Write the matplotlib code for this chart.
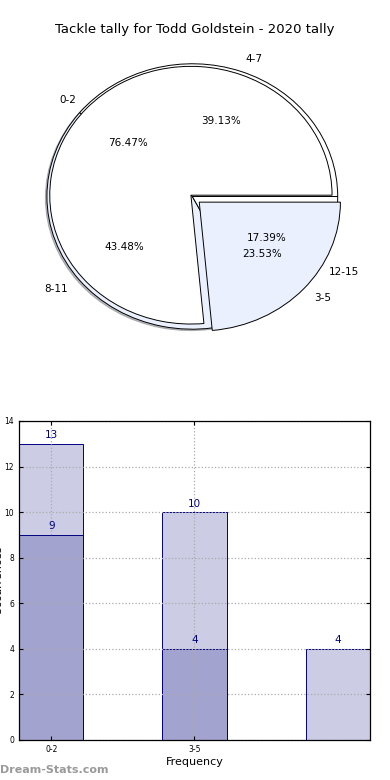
import matplotlib
matplotlib.use("Agg")
import matplotlib.pyplot as plt
import numpy as np

# pie data
labels_a = ["0-2", "3-5"]
values_a = [13, 4]
labels_b = ["4-7", "8-11", "12-15"]
values_b = [9, 10, 4]

# bar data
bar_labels = ["0-2", "3-5"]
bars_back = [13, 10, 4]
bars_front = [9, 4]

navy = "#000080"
light = "#eaf0fd"

fig = plt.figure(figsize=(3.9, 7.8), dpi=100)
fig.text(0.5, 1 - 30 / 780, "Tackle tally for Todd Goldstein - 2020 tally",
         ha="center", va="center", fontsize=9.5)

# top: two pies drawn on the same axes
ax1 = fig.add_axes([0.019, 0.535, 0.941, 0.4295])
ax1.pie(values_b, labels=labels_b, colors=["white", light, "white"],
        autopct="%.2f%%", radius=1.03, center=(0.01, -0.01),
        shadow={"ox": -0.008, "oy": -0.008, "shade": 0.5},
        wedgeprops={"edgecolor": "black", "linewidth": 0.7},
        textprops={"fontsize": 7.5})
ax1.pie(values_a, labels=labels_a, colors=["white", light],
        autopct="%.2f%%", explode=[0, 0.08],
        wedgeprops={"edgecolor": "black", "linewidth": 0.7},
        textprops={"fontsize": 7.5})
ax1.set_aspect("auto")
ax1.set_xlim(-1.3, 1.3)
ax1.set_ylim(-1.3, 1.3)
ax1.axis("off")

# bottom: overlapping bars
ax2 = fig.add_axes([0.0487, 0.0513, 0.9, 0.409])
w = 0.45
face = (0, 0, 128 / 255, 0.2)
x_back = np.arange(len(bars_back))
x_front = np.arange(len(bars_front))
ax2.bar(x_back, bars_back, w, color=face, edgecolor=navy, linewidth=0.7)
ax2.bar(x_front, bars_front, w, color=face, edgecolor=navy, linewidth=0.7)
for x, v in zip(x_back, bars_back):
    ax2.text(x, v + 0.15, str(v), ha="center", va="bottom", color=navy, fontsize=7.5)
for x, v in zip(x_front, bars_front):
    ax2.text(x, v + 0.15, str(v), ha="center", va="bottom", color=navy, fontsize=7.5)

ax2.set_xlim(-w / 2, len(bars_back) - 1 + w / 2)
ax2.set_ylim(0, 14)
ax2.set_yticks(range(0, 15, 2))
ax2.set_xticks(x_front)
ax2.set_xticklabels(bar_labels)
ax2.tick_params(direction="in", top=True, right=True, labelsize=5.5, length=3)
ax2.set_axisbelow(False)
ax2.grid(True, linestyle=":", color="#aaaaaa", linewidth=0.9)
ax2.set_xlabel("Frequency", fontsize=8, labelpad=2)
ax2.set_ylabel("Occurrences", fontsize=8, labelpad=1)
for s in ax2.spines.values():
    s.set_linewidth(0.9)
    s.set_zorder(5)

fig.text(0.0, 1 - 770 / 780, "Dream-Stats.com", ha="left", va="center",
         fontsize=8, color="#9a9a9a", fontweight="bold")

fig.savefig("out.png", dpi=100)
